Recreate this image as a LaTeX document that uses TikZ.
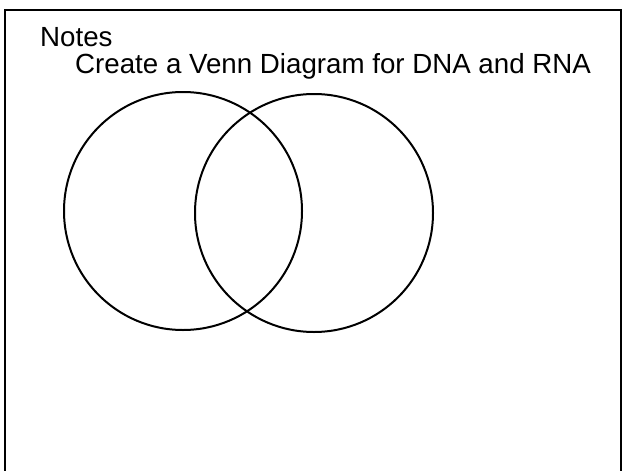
\documentclass[tikz,border=0pt]{standalone}
\usepackage{fontspec}
\setmainfont{Liberation Sans}
\usetikzlibrary{positioning}
\tikzset{
    vennset/.style={circle, draw=black, line width=2pt, minimum size=238pt, inner sep=0pt},
    notetext/.style={anchor=base west, inner sep=0pt, font=\fontsize{27.7}{32}\selectfont},
}

\begin{document}
\begin{tikzpicture}[x=1pt, y=-1pt]
    \useasboundingbox (0,0) rectangle (624,471);
    % Cornice della pagina
    \draw[line width=2.4pt] (5,480) -- (5,10) -- (621,10) -- (621,480);

    % Testi
    \node[notetext] (notes) at (40,46) {Notes};
    \node[notetext] (title) at (75,73) {Create a Venn Diagram for DNA and RNA};

    % Insiemi
    \node[vennset] (dna) at (183,211) {};
    \node[vennset] (rna) at (314,213) {};
\end{tikzpicture}
\end{document}
